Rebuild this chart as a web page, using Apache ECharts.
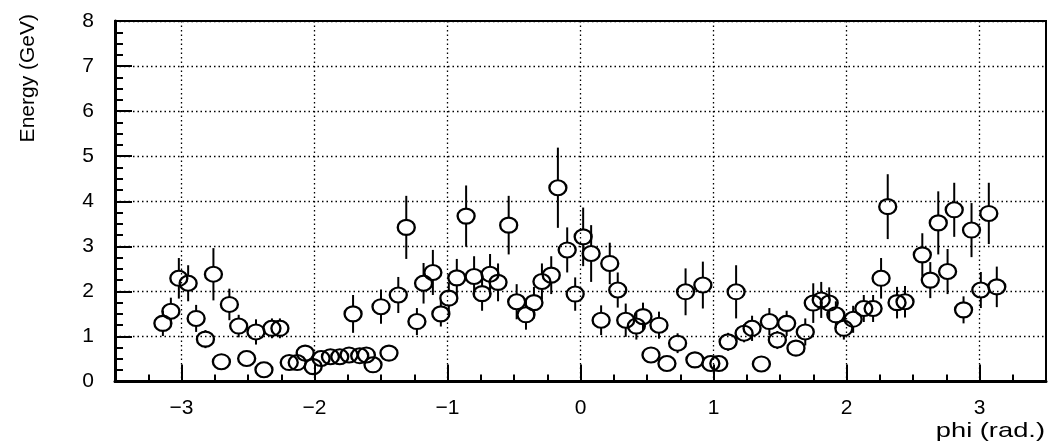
<!DOCTYPE html>
<html>
<head>
<meta charset="utf-8">
<script src="https://cdn.jsdelivr.net/npm/echarts@6/dist/echarts.min.js"></script>
<style>
html,body{margin:0;padding:0;background:#fff;}
#chart{width:1049px;height:442px;}
</style>
</head>
<body>
<div id="chart"></div>
<script>
// phi (rad.) of each measurement
const phi = [
  -3.14,-3.08,-3.02,-2.95,-2.89,-2.82,-2.76,-2.70,-2.64,-2.57,
  -2.51,-2.44,-2.38,-2.32,-2.26,-2.19,-2.13,-2.07,-2.01,-1.95,
  -1.88,-1.81,-1.74,-1.71,-1.66,-1.61,-1.56,-1.50,-1.44,-1.37,
  -1.31,-1.23,-1.18,-1.11,-1.05,-0.99,-0.93,-0.86,-0.80,-0.74,
  -0.68,-0.62,-0.54,-0.48,-0.41,-0.35,-0.29,-0.22,-0.17,-0.10,
  -0.04,0.02,0.08,0.155,0.22,0.28,0.34,0.42,0.47,0.53,
  0.59,0.65,0.73,0.79,0.86,0.92,0.98,1.04,1.11,1.17,
  1.23,1.29,1.36,1.42,1.48,1.55,1.62,1.69,1.75,1.81,
  1.87,1.92,1.98,2.05,2.13,2.20,2.26,2.31,2.38,2.44,
  2.57,2.63,2.69,2.76,2.81,2.88,2.94,3.01,3.07,3.13
];
// Energy (GeV)
const energy = [
  1.29,1.56,2.29,2.18,1.40,0.94,2.38,0.44,1.71,1.23,
  0.51,1.10,0.26,1.18,1.18,0.42,0.42,0.63,0.33,0.51,
  0.55,0.55,0.59,1.50,0.57,0.59,0.37,1.66,0.63,1.92,
  3.42,1.33,2.18,2.42,1.50,1.85,2.30,3.67,2.33,1.95,
  2.38,2.20,3.47,1.77,1.48,1.75,2.22,2.36,4.30,2.92,
  1.94,3.21,2.84,1.36,2.62,2.03,1.36,1.23,1.44,0.59,
  1.25,0.40,0.85,1.99,0.48,2.14,0.40,0.40,0.88,1.99,
  1.07,1.18,0.39,1.33,0.92,1.29,0.74,1.10,1.74,1.81,
  1.74,1.48,1.18,1.38,1.62,1.62,2.29,3.88,1.75,1.77,
  2.81,2.25,3.52,2.44,3.81,1.59,3.36,2.03,3.73,2.10
];
// error on energy (GeV)
const energyErr = [
  0.28,0.30,0.45,0.40,0.30,0.20,0.58,0.08,0.35,0.25,
  0.10,0.28,0.05,0.22,0.22,0.08,0.08,0.12,0.08,0.10,
  0.10,0.10,0.12,0.42,0.10,0.10,0.08,0.38,0.10,0.40,
  0.70,0.30,0.45,0.50,0.28,0.35,0.42,0.68,0.45,0.38,
  0.45,0.42,0.65,0.39,0.33,0.35,0.40,0.42,0.89,0.50,
  0.37,0.65,0.63,0.33,0.46,0.39,0.37,0.30,0.31,0.10,
  0.30,0.08,0.22,0.52,0.10,0.52,0.08,0.08,0.20,0.59,
  0.20,0.28,0.08,0.30,0.20,0.28,0.15,0.30,0.44,0.40,
  0.35,0.30,0.25,0.30,0.30,0.30,0.45,0.72,0.35,0.35,
  0.48,0.40,0.70,0.50,0.60,0.30,0.60,0.40,0.68,0.45
];
const xTickValues = [-3,-2,-1,0,1,2,3];
const xTickLabels = ['\u22123','\u22122','\u22121','0','1','2','3'];
const yTickLabels = ['0','1','2','3','4','5','6','7','8'];

const FONT = '"Liberation Sans", Arial, sans-serif';
const chart = echarts.init(document.getElementById('chart'), null, {renderer:'canvas'});
const GL = 115, GW = 931, GT = 21, GB = 60.5;
const unit = GW / 7;
const markerH = 7.5;

chart.setOption({
  animation: false,
  backgroundColor: '#fff',
  grid: [
    {left: GL, width: GW, top: GT, bottom: GB, show: true, borderColor: '#000', borderWidth: 2, backgroundColor: 'transparent'},
    {left: GL + 0.5*unit, width: 6*unit, top: GT, bottom: GB, show: false}
  ],
  xAxis: [
    {gridIndex: 0, type: 'value', min: -3.5, max: 3.5, interval: 0.25,
     axisLine: {show: true, onZero: false, lineStyle: {color: '#000', width: 3}},
     axisTick: {show: true, inside: true, length: 7, lineStyle: {color: '#000', width: 2}},
     axisLabel: {show: false}, splitLine: {show: false}},
    {gridIndex: 1, type: 'value', min: -3, max: 3, interval: 1,
     axisLine: {show: false},
     axisTick: {show: true, inside: true, length: 17, lineStyle: {color: '#000', width: 2}},
     axisLabel: {show: true, margin: 16, color: '#000', fontFamily: FONT, fontSize: 21,
       formatter: v => xTickLabels[xTickValues.indexOf(Math.round(v))]},
     splitLine: {show: true, showMinLine: true, showMaxLine: true, lineStyle: {color: '#000', width: 1.3, type: [1.5, 3]}}}
  ],
  yAxis: [
    {gridIndex: 0, type: 'value', min: 0, max: 8, interval: 1,
     axisLine: {show: true, onZero: false, lineStyle: {color: '#000', width: 3}},
     axisTick: {show: true, inside: true, length: 17, lineStyle: {color: '#000', width: 2}},
     minorTick: {show: true, splitNumber: 4, length: 8, lineStyle: {color: '#000', width: 2}},
     axisLabel: {show: true, margin: 21, color: '#000', fontFamily: FONT, fontSize: 21,
       formatter: v => yTickLabels[Math.round(v)]},
     splitLine: {show: true, lineStyle: {color: '#000', width: 1.3, type: [1.5, 3]}}},
    {gridIndex: 1, type: 'value', min: 0, max: 8, show: false, splitLine: {show: false}}
  ],
  graphic: [
    {type: 'text', x: 18, y: 14, rotation: Math.PI/2,
     style: {text: 'Energy (GeV)', fill: '#000', font: '21px ' + FONT, textAlign: 'right', textVerticalAlign: 'top'}},
    {type: 'text', x: 1045, y: 442, scaleX: 1.3,
     style: {text: 'phi (rad.)', fill: '#000', font: '21px ' + FONT, textAlign: 'right', textVerticalAlign: 'bottom'}}
  ],
  series: [
    {type: 'custom', xAxisIndex: 0, yAxisIndex: 0, silent: true, z: 3,
     data: phi.map((p, i) => [p, energy[i], energyErr[i]]),
     renderItem: function (params, api) {
       const x = api.value(0), y = api.value(1), e = api.value(2);
       const c = api.coord([x, y]);
       const t = api.coord([x, y + e]);
       const b = api.coord([x, y - e]);
       const kids = [];
       const st = {stroke: '#000', lineWidth: 2};
       if (t[1] < c[1] - markerH) kids.push({type: 'line', shape: {x1: c[0], y1: t[1], x2: c[0], y2: c[1] - markerH}, style: st});
       if (b[1] > c[1] + markerH) kids.push({type: 'line', shape: {x1: c[0], y1: c[1] + markerH, x2: c[0], y2: b[1]}, style: st});
       return {type: 'group', children: kids};
     }},
    {type: 'scatter', xAxisIndex: 0, yAxisIndex: 0, silent: true, z: 4,
     symbol: 'circle', symbolSize: [17, 15],
     itemStyle: {color: 'rgba(255,255,255,0)', borderColor: '#000', borderWidth: 2.2, opacity: 1},
     data: phi.map((p, i) => [p, energy[i]])}
  ]
});
</script>
</body>
</html>
